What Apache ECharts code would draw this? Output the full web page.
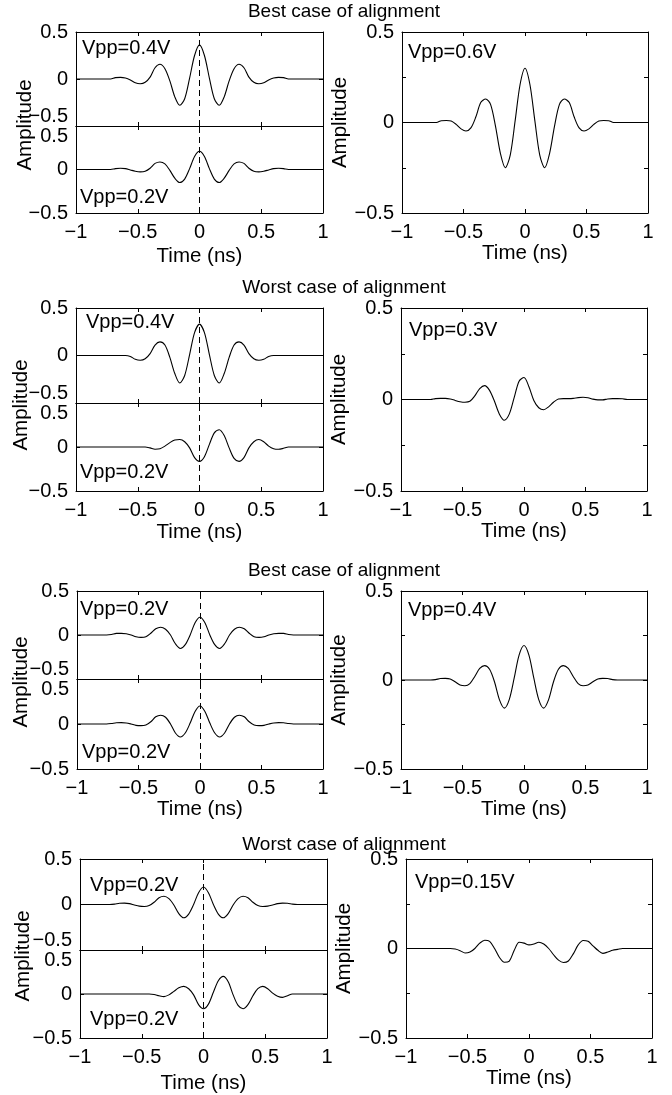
<!DOCTYPE html>
<html>
<head>
<meta charset="utf-8">
<script src="https://cdn.jsdelivr.net/npm/echarts@6/dist/echarts.min.js"></script>
<style>html,body{margin:0;padding:0;background:#fff}#c{width:672px;height:1095px}</style>
</head>
<body>
<div id="c"></div>
<script>
// ---------------- data ----------------
const t = [-1,-0.96,-0.92,-0.88,-0.84,-0.8,-0.76,-0.72,-0.68,-0.64,-0.6,-0.56,-0.52,-0.48,-0.44,-0.4,-0.36,-0.32,-0.28,-0.24,-0.2,-0.16,-0.12,-0.08,-0.04,0,
           0.04,0.08,0.12,0.16,0.2,0.24,0.28,0.32,0.36,0.4,0.44,0.48,0.52,0.56,0.6,0.64,0.68,0.72,0.76,0.8,0.84,0.88,0.92,0.96,1];

const rowTitles = ['Best case of alignment','Worst case of alignment','Best case of alignment','Worst case of alignment'];
const vppUpper = ['Vpp=0.4V','Vpp=0.4V','Vpp=0.2V','Vpp=0.2V'];
const vppLower = ['Vpp=0.2V','Vpp=0.2V','Vpp=0.2V','Vpp=0.2V'];
const vppSum   = ['Vpp=0.6V','Vpp=0.3V','Vpp=0.4V','Vpp=0.15V'];
const xName = 'Time (ns)';
const yName = 'Amplitude';

const upper1 = [0,0,0,0,0,0,0,0,0.015,0.017,0.01,-0.01,-0.04,-0.05,-0.035,0.02,0.12,0.157,0.11,-0.02,-0.19,-0.28,-0.21,0.01,0.25,0.363,0.25,0.01,-0.21,-0.28,-0.19,-0.02,0.11,0.157,0.12,0.02,-0.035,-0.05,-0.04,-0.01,0.01,0.017,0.015,0,0,0,0,0,0,0,0];
const lower1 = [0,0,0,0,0,0,0,0,0.01,0.015,0.01,-0.005,-0.02,-0.027,-0.02,0.015,0.07,0.087,0.065,-0.01,-0.1,-0.15,-0.11,0.01,0.15,0.21,0.15,0.01,-0.11,-0.15,-0.1,-0.01,0.065,0.087,0.07,0.015,-0.02,-0.027,-0.02,-0.005,0.01,0.015,0.01,0,0,0,0,0,0,0,0];
const sum1   = [0,0,0,0,0,0,0,0,0.01,0.011,0.008,-0.01,-0.035,-0.047,-0.03,0.03,0.11,0.13,0.1,-0.02,-0.17,-0.25,-0.18,0.01,0.21,0.3,0.21,0.01,-0.18,-0.25,-0.17,-0.02,0.1,0.13,0.11,0.03,-0.03,-0.047,-0.035,-0.01,0.008,0.011,0.01,0,0,0,0,0,0,0,0];

const upper2 = [0,0,0,0,0,0,0,0,0,0,0,-0.01,-0.04,-0.05,-0.035,0.02,0.11,0.143,0.11,-0.02,-0.19,-0.29,-0.21,0.01,0.24,0.33,0.24,0.01,-0.21,-0.29,-0.19,-0.02,0.11,0.143,0.11,0.02,-0.035,-0.05,-0.04,-0.01,0,0,0,0,0,0,0,0,0,0,0];
const lower2 = [0,0,0,0,0,0,0,0,0,0,0,0,0,0,0,-0.01,-0.025,-0.02,0.01,0.05,0.08,0.085,0.06,-0.01,-0.12,-0.163,-0.11,0.03,0.16,0.196,0.13,-0.01,-0.13,-0.163,-0.12,-0.01,0.06,0.085,0.06,0.01,-0.02,-0.026,-0.015,0,0,0,0,0,0,0,0];
const sum2   = [0,0,0,0,0,0,0,0.005,0.006,0.006,0.003,-0.005,-0.012,-0.015,-0.01,0.02,0.06,0.076,0.05,-0.01,-0.08,-0.113,-0.08,0.01,0.1,0.12,0.07,-0.005,-0.045,-0.056,-0.04,-0.015,0.003,0.005,0.005,0.006,0.01,0.012,0.01,0.002,-0.002,-0.002,0.003,0.005,0.005,0.004,0,0,0,0,0];

const upper3 = [0,0,0,0,0,0,0,0.005,0.018,0.019,0.015,0,-0.02,-0.027,-0.02,0.02,0.07,0.088,0.065,0,-0.1,-0.153,-0.11,0,0.14,0.202,0.14,0,-0.11,-0.153,-0.1,0,0.065,0.088,0.07,0.02,-0.02,-0.027,-0.02,0,0.015,0.019,0.018,0.005,0,0,0,0,0,0,0];
const lower3 = [0,0,0,0,0,0,0,0.005,0.014,0.015,0.012,0,-0.015,-0.018,-0.01,0.025,0.08,0.098,0.075,0,-0.1,-0.145,-0.1,0.01,0.14,0.2,0.14,0.01,-0.1,-0.145,-0.1,0,0.075,0.098,0.08,0.025,-0.01,-0.018,-0.015,0,0.012,0.015,0.014,0.005,0,0,0,0,0,0,0];
const sum3   = [0,0,0,0,0,0,0,0.002,0.008,0.009,0.006,-0.01,-0.028,-0.032,-0.02,0.02,0.065,0.081,0.06,-0.01,-0.11,-0.158,-0.11,0.01,0.14,0.194,0.14,0.01,-0.11,-0.158,-0.11,-0.01,0.06,0.081,0.065,0.02,-0.02,-0.032,-0.028,-0.01,0.006,0.009,0.008,0.002,0,0,0,0,0,0,0];

const upper4 = [0,0,0,0,0,0,0,0.004,0.014,0.015,0.01,-0.005,-0.018,-0.022,-0.012,0.025,0.075,0.091,0.065,-0.005,-0.1,-0.146,-0.105,0,0.13,0.193,0.13,0,-0.105,-0.146,-0.1,-0.005,0.065,0.091,0.075,0.025,-0.012,-0.022,-0.018,-0.005,0.01,0.015,0.014,0.004,0,0,0,0,0,0,0];
const lower4 = [0,0,0,0,0,0,0,0,0,0,0,0,0,0,0,-0.005,-0.02,-0.03,-0.01,0.03,0.07,0.087,0.06,-0.01,-0.12,-0.167,-0.115,0.02,0.15,0.2,0.14,-0.01,-0.13,-0.167,-0.12,-0.02,0.06,0.087,0.06,0.01,-0.025,-0.038,-0.02,0,0,0,0,0,0,0,0];
const sum4   = [0,0,0,0,0,0,0,0,0,0,-0.003,-0.012,-0.025,-0.02,0,0.03,0.046,0.04,0,-0.05,-0.077,-0.07,-0.01,0.035,0.03,0.02,0.025,0.035,0.025,0,-0.035,-0.065,-0.078,-0.07,-0.03,0.02,0.045,0.04,0.015,-0.01,-0.027,-0.02,-0.01,-0.005,0,0,0,0,0,0,0];

const uppers = [upper1, upper2, upper3, upper4];
const lowers = [lower1, lower2, lower3, lower4];
const sums   = [sum1, sum2, sum3, sum4];

// ---------------- layout (pixels) ----------------
const layout = [
  {ty:12,  L:[76,323,32,126,213],  R:[402,648,32,213],  gL:33, gR:29, amp:[25,125], ampGap:34, vU:[82,48],  vL:[80,197],  vS:[408,52]},
  {ty:288, L:[76,323,308,403,491], R:[401,647,308,491], gL:31, gR:27, amp:[21,405], ampGap:34, vU:[86,322], vL:[80,472],  vS:[409,330]},
  {ty:571, L:[77,323,591,679,769], R:[401,647,591,769], gL:26, gR:24, amp:[21,682], ampGap:34, vU:[80,609], vL:[82,752],  vS:[408,610]},
  {ty:845, L:[80,327,859,950,1038],R:[406,652,859,1038],gL:35, gR:30, amp:[23,956], ampGap:38, vU:[90,885], vL:[90,1019], vS:[415,882]}
];

const FONT = '"Liberation Sans", Arial, Helvetica, sans-serif';
const TICK_FS = 20, NAME_FS = 20.5, VPP_FS = 20, TITLE_FS = 19;

function fmt(v) { return (v < 0 ? '\u2212' : '') + String(Math.abs(v)); }

const grids = [], xAxes = [], yAxes = [], series = [], graphics = [];
const axLine = {show:true, onZero:false, lineStyle:{color:'#000', width:1}};
const axTick = {show:true, inside:true, length:4, lineStyle:{color:'#000', width:1}};
const richBase = {fontSize:TICK_FS, fontFamily:FONT, color:'#000'};

function frame(x0, x1, top, bot, o) {
  const gi = grids.length;
  grids.push({left:x0, top:top, width:x1 - x0, height:bot - top, outerBoundsMode:'none', containLabel:false});
  const xi = xAxes.length;
  xAxes.push({
    gridIndex:gi, type:'value', min:-1, max:1, interval:0.5, position:'bottom',
    axisLine:axLine, axisTick:axTick, splitLine:{show:false},
    axisLabel: o.xLabels ? {show:true, margin:9, fontSize:TICK_FS, fontFamily:FONT, color:'#000',
                            formatter:fmt, showMinLabel:true, showMaxLabel:true} : {show:false},
    name: o.xLabels ? xName : '', nameLocation:'middle', nameGap:o.xGap || 30,
    nameTextStyle:{fontSize:NAME_FS, fontFamily:FONT, color:'#000'}
  });
  xAxes.push({gridIndex:gi, type:'value', min:-1, max:1, interval:0.5, position:'top',
    axisLine:axLine, axisTick:axTick, splitLine:{show:false}, axisLabel:{show:false}});
  const yi = yAxes.length;
  yAxes.push({
    gridIndex:gi, type:'value', min:-0.5, max:0.5, interval:o.yInt, position:'left',
    axisLine:axLine, axisTick:axTick, splitLine:{show:false},
    axisLabel:{show:true, margin:8, fontSize:TICK_FS, fontFamily:FONT, color:'#000',
      showMinLabel:true, showMaxLabel:true, formatter:o.yFmt,
      rich:{
        u:Object.assign({lineHeight:40, verticalAlign:'top'}, richBase),
        d:Object.assign({lineHeight:40, verticalAlign:'bottom'}, richBase)
      }},
    name: o.yName || '', nameLocation:'middle', nameGap:o.yGap || 35,
    nameTextStyle:{fontSize:NAME_FS, fontFamily:FONT, color:'#000'}
  });
  yAxes.push({gridIndex:gi, type:'value', min:-0.5, max:0.5, interval:o.yInt, position:'right',
    axisLine:axLine, axisTick:axTick, splitLine:{show:false}, axisLabel:{show:false}});
  return {xi:xi, yi:yi};
}

function addLine(ax, arr, dashed) {
  const s = {
    type:'line', xAxisIndex:ax.xi, yAxisIndex:ax.yi,
    data:t.map((x, i) => [x, arr[i]]),
    showSymbol:false, symbol:'none', smooth:0.3, silent:true, animation:false,
    lineStyle:{color:'#000', width:1.1}, z:3
  };
  if (dashed) {
    s.markLine = {symbol:'none', silent:true, animation:false, label:{show:false},
      lineStyle:{type:[6,4], color:'#000', width:1}, data:[{xAxis:0}]};
  }
  series.push(s);
}

function txt(text, x, y, fs, align, rot) {
  graphics.push({type:'text', x:x, y:y, rotation:rot || 0, silent:true,
    style:{text:text, fontSize:fs, fontFamily:FONT, fill:'#000',
           align:align, verticalAlign:'middle', textAlign:align, textVerticalAlign:'middle'}});
}

const fmtUpper = v => v === -0.5 ? '{u|' + fmt(v) + '}' : fmt(v);
const fmtLower = v => v === 0.5 ? '{d|' + fmt(v) + '}' : fmt(v);
const fmtSum = v => (Math.abs(v) === 0.25 ? '' : fmt(v));

layout.forEach((g, r) => {
  const [lx0, lx1, lt, lm, lb] = g.L;
  const [rx0, rx1, rt, rb] = g.R;
  // left panel: two stacked axes
  const a1 = frame(lx0, lx1, lt, lm, {xLabels:false, yInt:0.5, yFmt:fmtUpper});
  addLine(a1, uppers[r], true);
  const a2 = frame(lx0, lx1, lm, lb, {xLabels:true, xGap:g.gL, yInt:0.5, yFmt:fmtLower});
  addLine(a2, lowers[r], true);
  // right panel
  const a3 = frame(rx0, rx1, rt, rb, {xLabels:true, xGap:g.gR, yInt:0.25, yFmt:fmtSum, yName:yName, yGap:g.ampGap});
  addLine(a3, sums[r], false);
  // texts
  txt(rowTitles[r], 344, g.ty, TITLE_FS, 'center');
  txt(yName, g.amp[0], g.amp[1], NAME_FS, 'center', Math.PI / 2);
  txt(vppUpper[r], g.vU[0], g.vU[1], VPP_FS, 'left');
  txt(vppLower[r], g.vL[0], g.vL[1], VPP_FS, 'left');
  txt(vppSum[r], g.vS[0], g.vS[1], VPP_FS, 'left');
});

const chart = echarts.init(document.getElementById('c'), null, {renderer:'canvas'});
chart.setOption({
  animation:false,
  backgroundColor:'#fff',
  textStyle:{fontFamily:FONT},
  grid:grids, xAxis:xAxes, yAxis:yAxes, series:series,
  graphic:{elements:graphics}
});
</script>
</body>
</html>
